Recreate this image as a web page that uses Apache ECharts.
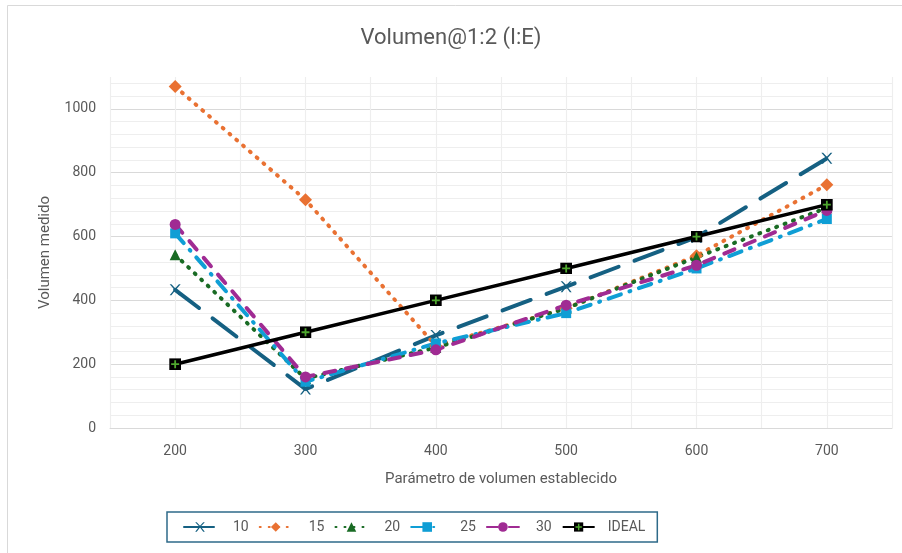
<!DOCTYPE html>
<html>
<head>
<meta charset="utf-8">
<script src="https://cdn.jsdelivr.net/npm/echarts@6/dist/echarts.min.js"></script>
<style>
  html, body { margin: 0; padding: 0; background: #fff; }
  #chart { width: 902px; height: 553px; }
</style>
</head>
<body>
<div id="chart"></div>
<script>
// valores
var xValues = [200, 300, 400, 500, 600, 700];
var s10 = [433, 122, 290, 443, 598, 845];
var s15 = [1070, 715, 258, 375, 540, 762];
var s20 = [543, 155, 252, 375, 535, 690];
var s25 = [610, 145, 265, 360, 500, 655];
var s30 = [638, 160, 245, 385, 510, 682];
var ideal = [200, 300, 400, 500, 600, 700];
var seriesNames = ["10", "15", "20", "25", "30", "IDEAL"];

var font = "'Liberation Sans Narrow', Roboto, sans-serif";
var grey = "#595959";

function pairs(vals) {
  return xValues.map(function (x, i) { return [x, vals[i]]; });
}

var idealIcon = "image://data:image/svg+xml;utf8," + encodeURIComponent(
  "<svg xmlns='http://www.w3.org/2000/svg' width='12' height='12'>" +
  "<rect width='12' height='12' fill='black'/>" +
  "<path d='M6 2v8M2 6h8' stroke='#4EA72E' stroke-width='1.8'/></svg>");

var crossIcon = "path://M0,0 L1.6,0 L5,3.6 L8.4,0 L10,0 L5.8,4.6 L10,10 L8.4,10 L5,5.6 L1.6,10 L0,10 L4.2,4.6 Z";

var myChart = echarts.init(document.getElementById("chart"));
var option = {
  animation: false,
  backgroundColor: "#fff",
  graphic: [{
    type: "rect",
    shape: { x: 7.5, y: 5.5, width: 900, height: 560 },
    style: { fill: "none", stroke: "#d9d9d9", lineWidth: 1 },
    silent: true
  }],
  title: {
    text: "Volumen@1:2 (I:E)",
    left: "center",
    top: 22,
    textStyle: { fontFamily: font, fontSize: 22, fontWeight: "normal", color: grey }
  },
  legend: {
    data: seriesNames,
    left: 167,
    top: 512,
    padding: [8, 12, 8, 16],
    itemWidth: 32,
    itemHeight: 12,
    itemGap: 10,
    borderColor: "#2E6A89",
    borderWidth: 1.5,
    formatter: function (name) {
      return name === "IDEAL" ? "{b|IDEAL}" : "{a|" + name + "}";
    },
    textStyle: {
      fontFamily: font, fontSize: 14, color: grey,
      rich: { a: { width: 18, padding: [0, 0, 0, 12] }, b: { width: 45, padding: [0, 0, 0, 8] } }
    }
  },
  grid: { left: 110, right: 10, top: 77, bottom: 125 },
  xAxis: {
    type: "value",
    min: 150,
    max: 750,
    interval: 50,
    name: "Parámetro de volumen establecido",
    nameLocation: "middle",
    nameGap: 44,
    nameTextStyle: { fontFamily: font, fontSize: 15, color: grey },
    axisLine: { show: true, lineStyle: { color: "#d9d9d9", width: 1 } },
    axisTick: { show: false },
    axisLabel: {
      fontFamily: font, fontSize: 14, color: grey, margin: 16,
      formatter: function (v) {
        return (v % 100 === 0 && v >= 200 && v <= 700) ? String(v) : "";
      }
    },
    splitLine: { show: true, lineStyle: { color: "#eeeeee", width: 1.2 } }
  },
  yAxis: {
    type: "value",
    min: 0,
    max: 1100,
    interval: 200,
    name: "Volumen medido",
    nameLocation: "middle",
    nameGap: 57,
    nameTextStyle: { fontFamily: font, fontSize: 15, color: grey },
    axisLine: { show: false },
    axisTick: { show: false },
    axisLabel: {
      fontFamily: font, fontSize: 14, color: grey, margin: 14, showMaxLabel: false,
      formatter: function (v) { return String(v); }
    },
    splitLine: { show: true, showMaxLine: false, lineStyle: { color: "#d9d9d9", width: 1.2 } },
    minorTick: { show: false, splitNumber: 5 },
    minorSplitLine: { show: true, lineStyle: { color: "#eeeeee", width: 1.2 } }
  },
  series: [
    {
      name: "10", type: "line", data: pairs(s10),
      symbol: crossIcon, symbolSize: 11,
      itemStyle: { color: "#156082" },
      lineStyle: { color: "#156082", width: 4, type: [30, 17], cap: "round" }
    },
    {
      name: "15", type: "line", data: pairs(s15),
      symbol: "diamond", symbolSize: 13,
      itemStyle: { color: "#E97132" },
      lineStyle: { color: "#E97132", width: 4, type: [1, 8], cap: "round" }
    },
    {
      name: "20", type: "line", data: pairs(s20),
      symbol: "triangle", symbolSize: 11,
      itemStyle: { color: "#196B24" },
      lineStyle: { color: "#196B24", width: 4, type: [1, 8], cap: "round" }
    },
    {
      name: "25", type: "line", data: pairs(s25),
      symbol: "rect", symbolSize: 10,
      itemStyle: { color: "#0F9ED5" },
      lineStyle: { color: "#0F9ED5", width: 4, type: [13, 9, 1, 9], cap: "round" }
    },
    {
      name: "30", type: "line", data: pairs(s30),
      symbol: "circle", symbolSize: 11,
      itemStyle: { color: "#A02B93" },
      lineStyle: { color: "#A02B93", width: 4, type: [11, 11], cap: "round" }
    },
    {
      name: "IDEAL", type: "line", data: pairs(ideal),
      symbol: idealIcon, symbolSize: 12,
      itemStyle: { color: "#000" },
      lineStyle: { color: "#000", width: 3.5 }
    }
  ]
};
window.onresize = myChart.resize;
myChart.setOption(option);
</script>
</body>
</html>
